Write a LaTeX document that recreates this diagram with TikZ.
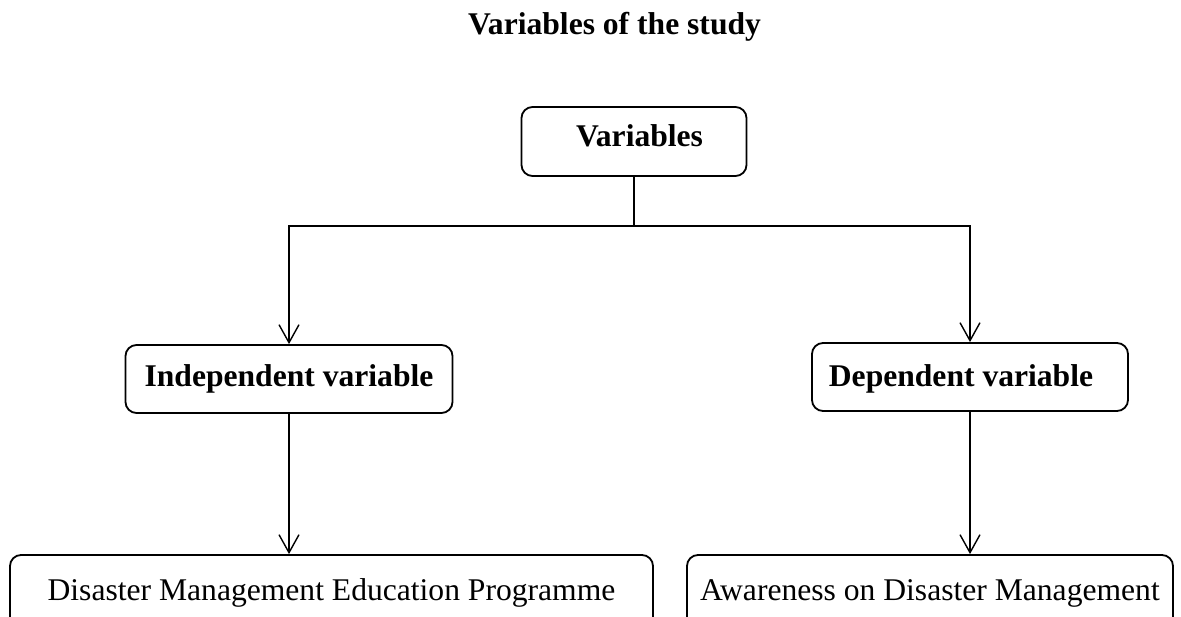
\documentclass[tikz,border=0pt]{standalone}
\usepackage{fontspec}
\setmainfont{Liberation Serif}
\usetikzlibrary{arrows.meta}

\begin{document}
\begin{tikzpicture}[x=1pt,y=-1pt,
  box/.style={draw, line width=1.8pt, rounded corners=11pt, inner sep=0pt,
              font=\fontsize{31.6}{38}\selectfont, text height=21.5pt},
  bold/.style={font=\fontsize{31.6}{38}\selectfont\bfseries},
  link/.style={line width=1.4pt},
  arrow/.style={link, -{Straight Barb[length=18pt,width=20pt,line width=1.4pt]}}
]
  \useasboundingbox (0,0) rectangle (1181,617);

  % heading
  \node[bold, anchor=base] (title) at (614.5,35) {Variables of the study};

  % top level
  \node[box, bold, minimum width=225pt, minimum height=69pt, text depth=10.5pt]
    (var) at (634,141.5) {\hspace*{11pt}Variables};

  % second level
  \node[box, bold, minimum width=327pt, minimum height=68pt, text depth=5.5pt]
    (indep) at (289,379) {Independent variable};
  \node[box, bold, minimum width=316pt, minimum height=68pt, text depth=1.5pt]
    (dep) at (970,377) {Dependent variable\hspace*{18pt}};

  % third level (boxes run past the lower edge)
  \node[box, minimum width=643pt, minimum height=75pt, text depth=6.5pt]
    (edu) at (331.5,592.5) {Disaster Management Education Programme};
  \node[box, minimum width=486pt, minimum height=75pt, text depth=6.5pt]
    (aware) at (930,592.5) {Awareness on Disaster Management};

  % connectors
  \coordinate (split) at (var.south |- 0,226);
  \draw[link] (var.south) -- (split);
  \draw[arrow] (split) -| (indep.north);
  \draw[arrow] (split) -| (dep.north);
  \draw[arrow] (indep.south) -- (indep.south |- edu.north);
  \draw[arrow] (dep.south) -- (dep.south |- aware.north);
\end{tikzpicture}
\end{document}
